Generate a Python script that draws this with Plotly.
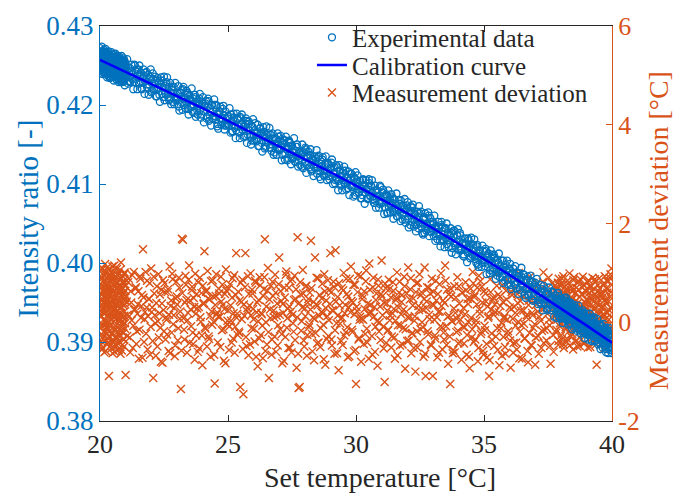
import plotly.graph_objects as go

# ---------------- data ----------------
# run 1
set_temp = [
    20.00, 20.01, 20.02, 20.03, 20.04, 20.05, 20.06, 20.07, 20.08, 20.09,
    20.10, 20.11, 20.12, 20.13, 20.14, 20.15, 20.16, 20.17, 20.18, 20.19,
    20.20, 20.21, 20.22, 20.23, 20.24, 20.25, 20.26, 20.27, 20.28, 20.29,
    20.30, 20.31, 20.32, 20.33, 20.34, 20.35, 20.36, 20.37, 20.38, 20.39,
    20.40, 20.41, 20.42, 20.43, 20.44, 20.45, 20.46, 20.47, 20.48, 20.49,
    20.50, 20.51, 20.52, 20.53, 20.54, 20.55, 20.56, 20.57, 20.58, 20.59,
    20.60, 20.61, 20.62, 20.63, 20.64, 20.65, 20.66, 20.67, 20.68, 20.69,
    20.70, 20.71, 20.72, 20.73, 20.74, 20.75, 20.76, 20.77, 20.78, 20.79,
    20.80, 20.81, 20.82, 20.83, 20.84, 20.85, 20.86, 20.87, 20.88, 20.89,
    20.90, 20.91, 20.92, 20.93, 20.94, 20.95, 20.96, 20.97, 20.98, 20.99,
    21.00, 21.04, 21.08, 21.12, 21.16, 21.20, 21.24, 21.28, 21.32, 21.36,
    21.40, 21.44, 21.48, 21.52, 21.56, 21.60, 21.64, 21.68, 21.72, 21.76,
    21.80, 21.84, 21.88, 21.92, 21.96, 22.00, 22.04, 22.08, 22.12, 22.16,
    22.20, 22.24, 22.28, 22.32, 22.36, 22.40, 22.44, 22.48, 22.52, 22.56,
    22.60, 22.64, 22.68, 22.72, 22.76, 22.80, 22.84, 22.88, 22.92, 22.96,
    23.00, 23.04, 23.08, 23.12, 23.16, 23.20, 23.24, 23.28, 23.32, 23.36,
    23.40, 23.44, 23.48, 23.52, 23.56, 23.60, 23.64, 23.68, 23.72, 23.76,
    23.80, 23.84, 23.88, 23.92, 23.96, 24.00, 24.04, 24.08, 24.12, 24.16,
    24.20, 24.24, 24.28, 24.32, 24.36, 24.40, 24.44, 24.48, 24.52, 24.56,
    24.60, 24.64, 24.68, 24.72, 24.76, 24.80, 24.84, 24.88, 24.92, 24.96,
    25.00, 25.04, 25.08, 25.12, 25.16, 25.20, 25.24, 25.28, 25.32, 25.36,
    25.40, 25.44, 25.48, 25.52, 25.56, 25.60, 25.64, 25.68, 25.72, 25.76,
    25.80, 25.84, 25.88, 25.92, 25.96, 26.00, 26.04, 26.08, 26.12, 26.16,
    26.20, 26.24, 26.28, 26.32, 26.36, 26.40, 26.44, 26.48, 26.52, 26.56,
    26.60, 26.64, 26.68, 26.72, 26.76, 26.80, 26.84, 26.88, 26.92, 26.96,
    27.00, 27.04, 27.08, 27.12, 27.16, 27.20, 27.24, 27.28, 27.32, 27.36,
    27.40, 27.44, 27.48, 27.52, 27.56, 27.60, 27.64, 27.68, 27.72, 27.76,
    27.80, 27.84, 27.88, 27.92, 27.96, 28.00, 28.04, 28.08, 28.12, 28.16,
    28.20, 28.24, 28.28, 28.32, 28.36, 28.40, 28.44, 28.48, 28.52, 28.56,
    28.60, 28.64, 28.68, 28.72, 28.76, 28.80, 28.84, 28.88, 28.92, 28.96,
    29.00, 29.04, 29.08, 29.12, 29.16, 29.20, 29.24, 29.28, 29.32, 29.36,
    29.40, 29.44, 29.48, 29.52, 29.56, 29.60, 29.64, 29.68, 29.72, 29.76,
    29.80, 29.84, 29.88, 29.92, 29.96, 30.00, 30.04, 30.08, 30.12, 30.16,
    30.20, 30.24, 30.28, 30.32, 30.36, 30.40, 30.44, 30.48, 30.52, 30.56,
    30.60, 30.64, 30.68, 30.72, 30.76, 30.80, 30.84, 30.88, 30.92, 30.96,
    31.00, 31.04, 31.08, 31.12, 31.16, 31.20, 31.24, 31.28, 31.32, 31.36,
    31.40, 31.44, 31.48, 31.52, 31.56, 31.60, 31.64, 31.68, 31.72, 31.76,
    31.80, 31.84, 31.88, 31.92, 31.96, 32.00, 32.04, 32.08, 32.12, 32.16,
    32.20, 32.24, 32.28, 32.32, 32.36, 32.40, 32.44, 32.48, 32.52, 32.56,
    32.60, 32.64, 32.68, 32.72, 32.76, 32.80, 32.84, 32.88, 32.92, 32.96,
    33.00, 33.04, 33.08, 33.12, 33.16, 33.20, 33.24, 33.28, 33.32, 33.36,
    33.40, 33.44, 33.48, 33.52, 33.56, 33.60, 33.64, 33.68, 33.72, 33.76,
    33.80, 33.84, 33.88, 33.92, 33.96, 34.00, 34.04, 34.08, 34.12, 34.16,
    34.20, 34.24, 34.28, 34.32, 34.36, 34.40, 34.44, 34.48, 34.52, 34.56,
    34.60, 34.64, 34.68, 34.72, 34.76, 34.80, 34.84, 34.88, 34.92, 34.96,
    35.00, 35.04, 35.08, 35.12, 35.16, 35.20, 35.24, 35.28, 35.32, 35.36,
    35.40, 35.44, 35.48, 35.52, 35.56, 35.60, 35.64, 35.68, 35.72, 35.76,
    35.80, 35.84, 35.88, 35.92, 35.96, 36.00, 36.04, 36.08, 36.12, 36.16,
    36.20, 36.24, 36.28, 36.32, 36.36, 36.40, 36.44, 36.48, 36.52, 36.56,
    36.60, 36.64, 36.68, 36.72, 36.76, 36.80, 36.84, 36.88, 36.92, 36.96,
    37.00, 37.04, 37.08, 37.12, 37.16, 37.20, 37.24, 37.28, 37.32, 37.36,
    37.40, 37.44, 37.48, 37.52, 37.56, 37.60, 37.64, 37.68, 37.72, 37.76,
    37.80, 37.82, 37.84, 37.86, 37.88, 37.90, 37.92, 37.94, 37.96, 37.98,
    38.00, 38.02, 38.04, 38.06, 38.08, 38.10, 38.12, 38.14, 38.16, 38.18,
    38.20, 38.22, 38.24, 38.26, 38.28, 38.30, 38.32, 38.34, 38.36, 38.38,
    38.40, 38.42, 38.44, 38.46, 38.48, 38.50, 38.52, 38.54, 38.56, 38.58,
    38.60, 38.62, 38.64, 38.66, 38.68, 38.70, 38.72, 38.74, 38.76, 38.78,
    38.80, 38.82, 38.84, 38.86, 38.88, 38.90, 38.92, 38.94, 38.96, 38.98,
    39.00, 39.02, 39.04, 39.06, 39.08, 39.10, 39.12, 39.14, 39.16, 39.18,
    39.20, 39.22, 39.24, 39.26, 39.28, 39.30, 39.32, 39.34, 39.36, 39.38,
    39.40, 39.42, 39.44, 39.46, 39.48, 39.50, 39.52, 39.54, 39.56, 39.58,
    39.60, 39.62, 39.64, 39.66, 39.68, 39.70, 39.72, 39.74, 39.76, 39.78,
    39.80, 39.82, 39.84, 39.86, 39.88, 39.90, 39.92, 39.94, 39.96, 39.98,
]

intensity_ratio = [
    0.4260, 0.4250, 0.4266, 0.4255, 0.4261, 0.4245, 0.4257, 0.4263, 0.4252, 0.4268,
    0.4250, 0.4263, 0.4254, 0.4246, 0.4258, 0.4264, 0.4248, 0.4256, 0.4241, 0.4260,
    0.4265, 0.4251, 0.4260, 0.4246, 0.4253, 0.4257, 0.4243, 0.4262, 0.4251, 0.4247,
    0.4250, 0.4257, 0.4240, 0.4259, 0.4252, 0.4246, 0.4264, 0.4244, 0.4254, 0.4250,
    0.4259, 0.4242, 0.4253, 0.4256, 0.4246, 0.4249, 0.4257, 0.4239, 0.4260, 0.4253,
    0.4243, 0.4250, 0.4259, 0.4246, 0.4239, 0.4254, 0.4246, 0.4252, 0.4256, 0.4238,
    0.4252, 0.4261, 0.4243, 0.4248, 0.4256, 0.4240, 0.4244, 0.4258, 0.4241, 0.4249,
    0.4236, 0.4249, 0.4253, 0.4245, 0.4240, 0.4257, 0.4250, 0.4237, 0.4246, 0.4241,
    0.4251, 0.4241, 0.4244, 0.4255, 0.4232, 0.4247, 0.4252, 0.4242, 0.4237, 0.4253,
    0.4242, 0.4235, 0.4255, 0.4247, 0.4239, 0.4243, 0.4233, 0.4248, 0.4253, 0.4237,
    0.4251, 0.4243, 0.4235, 0.4230, 0.4247, 0.4236, 0.4243, 0.4239, 0.4229, 0.4250,
    0.4233, 0.4245, 0.4239, 0.4227, 0.4236, 0.4241, 0.4220, 0.4228, 0.4237, 0.4230,
    0.4233, 0.4222, 0.4238, 0.4226, 0.4233, 0.4216, 0.4227, 0.4233, 0.4221, 0.4236,
    0.4219, 0.4231, 0.4222, 0.4213, 0.4226, 0.4231, 0.4214, 0.4222, 0.4206, 0.4224,
    0.4229, 0.4214, 0.4223, 0.4208, 0.4216, 0.4219, 0.4204, 0.4223, 0.4211, 0.4206,
    0.4209, 0.4215, 0.4198, 0.4216, 0.4210, 0.4203, 0.4220, 0.4200, 0.4209, 0.4204,
    0.4213, 0.4195, 0.4206, 0.4208, 0.4199, 0.4201, 0.4208, 0.4190, 0.4210, 0.4202,
    0.4193, 0.4199, 0.4208, 0.4194, 0.4188, 0.4202, 0.4193, 0.4199, 0.4202, 0.4183,
    0.4197, 0.4205, 0.4187, 0.4191, 0.4200, 0.4183, 0.4186, 0.4200, 0.4182, 0.4189,
    0.4176, 0.4188, 0.4192, 0.4183, 0.4179, 0.4195, 0.4187, 0.4174, 0.4182, 0.4176,
    0.4186, 0.4175, 0.4178, 0.4188, 0.4166, 0.4180, 0.4184, 0.4174, 0.4168, 0.4183,
    0.4173, 0.4165, 0.4185, 0.4176, 0.4169, 0.4172, 0.4161, 0.4176, 0.4180, 0.4163,
    0.4176, 0.4168, 0.4160, 0.4155, 0.4172, 0.4161, 0.4168, 0.4164, 0.4154, 0.4175,
    0.4158, 0.4170, 0.4164, 0.4152, 0.4161, 0.4166, 0.4145, 0.4153, 0.4162, 0.4155,
    0.4157, 0.4146, 0.4162, 0.4150, 0.4157, 0.4140, 0.4151, 0.4157, 0.4145, 0.4160,
    0.4143, 0.4155, 0.4146, 0.4137, 0.4150, 0.4155, 0.4138, 0.4146, 0.4130, 0.4148,
    0.4153, 0.4138, 0.4147, 0.4132, 0.4140, 0.4143, 0.4128, 0.4147, 0.4135, 0.4130,
    0.4133, 0.4139, 0.4122, 0.4140, 0.4134, 0.4127, 0.4144, 0.4124, 0.4133, 0.4128,
    0.4137, 0.4119, 0.4130, 0.4132, 0.4122, 0.4125, 0.4132, 0.4113, 0.4134, 0.4126,
    0.4116, 0.4122, 0.4131, 0.4117, 0.4110, 0.4125, 0.4116, 0.4121, 0.4125, 0.4106,
    0.4119, 0.4127, 0.4109, 0.4113, 0.4121, 0.4105, 0.4108, 0.4121, 0.4104, 0.4111,
    0.4098, 0.4110, 0.4114, 0.4105, 0.4100, 0.4117, 0.4109, 0.4095, 0.4104, 0.4098,
    0.4107, 0.4096, 0.4099, 0.4109, 0.4086, 0.4101, 0.4105, 0.4094, 0.4089, 0.4104,
    0.4094, 0.4086, 0.4106, 0.4097, 0.4089, 0.4093, 0.4082, 0.4096, 0.4101, 0.4084,
    0.4097, 0.4089, 0.4081, 0.4076, 0.4092, 0.4082, 0.4089, 0.4084, 0.4075, 0.4096,
    0.4077, 0.4089, 0.4083, 0.4071, 0.4079, 0.4085, 0.4064, 0.4071, 0.4081, 0.4074,
    0.4076, 0.4065, 0.4081, 0.4069, 0.4075, 0.4059, 0.4070, 0.4075, 0.4064, 0.4079,
    0.4061, 0.4073, 0.4064, 0.4055, 0.4067, 0.4073, 0.4056, 0.4063, 0.4048, 0.4066,
    0.4070, 0.4055, 0.4063, 0.4049, 0.4056, 0.4059, 0.4044, 0.4063, 0.4051, 0.4046,
    0.4050, 0.4056, 0.4038, 0.4057, 0.4050, 0.4043, 0.4060, 0.4040, 0.4049, 0.4044,
    0.4052, 0.4034, 0.4044, 0.4047, 0.4037, 0.4039, 0.4046, 0.4028, 0.4048, 0.4040,
    0.4030, 0.4036, 0.4044, 0.4031, 0.4024, 0.4038, 0.4029, 0.4035, 0.4038, 0.4019,
    0.4033, 0.4041, 0.4022, 0.4027, 0.4035, 0.4018, 0.4021, 0.4035, 0.4017, 0.4024,
    0.4011, 0.4023, 0.4026, 0.4018, 0.4013, 0.4029, 0.4021, 0.4008, 0.4016, 0.4010,
    0.4019, 0.4008, 0.4010, 0.4021, 0.3998, 0.4012, 0.4016, 0.4006, 0.4000, 0.4015,
    0.4004, 0.3996, 0.4015, 0.4007, 0.3999, 0.4002, 0.3991, 0.4006, 0.4010, 0.3993,
    0.4006, 0.3998, 0.3989, 0.3984, 0.4001, 0.3990, 0.3997, 0.3992, 0.3982, 0.4003,
    0.3986, 0.3998, 0.3991, 0.3979, 0.3988, 0.3993, 0.3972, 0.3979, 0.3988, 0.3981,
    0.3984, 0.3973, 0.3988, 0.3976, 0.3983, 0.3966, 0.3977, 0.3982, 0.3970, 0.3985,
    0.3967, 0.3979, 0.3969, 0.3960, 0.3973, 0.3978, 0.3961, 0.3968, 0.3952, 0.3970,
    0.3975, 0.3960, 0.3968, 0.3953, 0.3961, 0.3964, 0.3949, 0.3967, 0.3955, 0.3950,
    0.3954, 0.3960, 0.3942, 0.3960, 0.3954, 0.3947, 0.3964, 0.3943, 0.3952, 0.3947,
    0.3955, 0.3938, 0.3948, 0.3951, 0.3941, 0.3944, 0.3951, 0.3933, 0.3953, 0.3946,
    0.3937, 0.3944, 0.3952, 0.3939, 0.3932, 0.3947, 0.3938, 0.3944, 0.3947, 0.3929,
    0.3943, 0.3952, 0.3933, 0.3938, 0.3946, 0.3930, 0.3933, 0.3947, 0.3929, 0.3937,
    0.3924, 0.3937, 0.3940, 0.3932, 0.3927, 0.3944, 0.3936, 0.3923, 0.3931, 0.3926,
    0.3936, 0.3926, 0.3928, 0.3939, 0.3916, 0.3931, 0.3935, 0.3925, 0.3919, 0.3935,
    0.3924, 0.3917, 0.3936, 0.3928, 0.3920, 0.3924, 0.3913, 0.3928, 0.3932, 0.3916,
    0.3930, 0.3923, 0.3914, 0.3910, 0.3926, 0.3916, 0.3923, 0.3919, 0.3909, 0.3931,
    0.3914, 0.3927, 0.3920, 0.3909, 0.3917, 0.3923, 0.3902, 0.3910, 0.3919, 0.3913,
    0.3915, 0.3905, 0.3920, 0.3909, 0.3915, 0.3899, 0.3910, 0.3916, 0.3904, 0.3920,
    0.3903, 0.3916, 0.3906, 0.3898, 0.3910, 0.3916, 0.3899, 0.3907, 0.3891, 0.3910,
    0.3914, 0.3900, 0.3908, 0.3894, 0.3901, 0.3905, 0.3890, 0.3909, 0.3897, 0.3893,
]

measurement_deviation = [
    0.31, -0.12, 0.78, 0.45, -0.38, 1.05, 0.12, 0.56, -0.55, 0.27,
    0.89, -0.05, 0.62, 0.18, -0.28, 0.95, 0.41, -0.61, 0.70, 0.03,
    1.18, 0.36, -0.20, 0.52, 0.84, -0.44, 0.22, 0.67, -0.09, 0.48,
    1.12, -0.33, 0.15, 0.73, 0.39, -1.09, 0.96, 0.08, 0.60, -0.16,
    0.29, 0.83, -0.47, 0.51, 1.02, 0.20, -0.25, 0.66, 0.33, -0.63,
    0.88, 0.11, 0.44, -0.36, 0.75, 0.02, 1.15, 0.26, -0.50, 0.58,
    0.92, -0.07, 0.37, -0.30, 0.69, 0.14, 1.08, -0.41, 0.47, 0.81,
    -0.18, 0.24, 0.99, -0.56, 0.63, 0.06, 0.42, -0.26, 0.86, 0.17,
    -0.64, 0.54, 1.21, 0.30, -0.10, 0.71, 0.38, -0.46, 0.93, 0.09,
    0.57, -0.22, 0.34, 0.79, -0.35, 0.13, 1.01, 0.49, -0.02, 0.64,
    -1.07, 0.42, 0.15, 0.88, -0.31, 0.63, 0.04, -0.52, 1.02, 0.27,
    0.71, -0.18, 0.36, -0.74, 0.93, 0.09, 0.55, 1.48, -0.40, 0.21,
    -0.23, 0.84, 0.12, 0.47, -0.66, 1.09, 0.30, -1.13, 0.58, -0.02,
    0.39, -0.49, 0.97, 0.18, -0.11, 0.66, -0.82, 0.25, 0.79, -0.35,
    0.05, 0.61, -0.58, 1.13, 0.33, -0.21, 0.87, 0.14, -0.69, 0.48,
    0.52, -0.37, 0.90, 0.07, -1.35, 1.69, 1.67, -0.15, 0.40, 0.76,
    -0.62, 0.19, 1.15, 0.44, -0.08, 0.72, -0.44, 0.31, 0.98, -0.27,
    0.28, 0.81, -0.53, 0.10, 0.59, -0.87, 0.37, 1.44, -0.13, 0.65,
    1.04, -0.29, 0.46, -0.70, 0.22, 0.85, 0.01, -1.24, 0.53, 0.16,
    -0.41, 0.68, 0.11, 0.92, -0.16, 0.35, -0.78, 0.57, 1.07, -0.04,
    0.24, -0.56, 0.77, 0.03, 0.50, -0.33, 0.95, -0.09, 1.40, 0.17,
    0.62, -0.22, -1.31, 0.41, 0.86, -1.46, 0.13, 1.40, -0.48, 0.29,
    -0.67, 0.34, 0.99, -0.12, 0.58, 0.06, -0.39, 0.80, 0.20, -0.89,
    0.45, 0.91, -0.26, 0.16, -0.73, 0.67, 1.68, 0.00, -0.45, 1.10,
    -1.13, 0.26, 0.74, -0.35, 0.53, 0.10, 0.96, -0.60, 0.38, -0.06,
    1.31, -0.14, 0.43, -0.83, 0.19, 0.70, -0.30, 1.03, 0.08, -0.52,
    0.32, 0.83, -0.61, 0.15, -0.19, 0.94, 0.47, -0.92, 1.72, -1.33,
    -1.31, 0.56, 0.02, 1.06, -0.37, 0.28, 0.73, -0.68, 0.40, -0.10,
    0.60, 1.65, -0.24, 0.09, -0.77, 1.31, 0.36, -0.43, 0.89, 0.13,
    -0.50, 0.21, 0.78, -0.05, 0.97, -0.86, 0.44, 0.12, -0.28, 0.66,
    1.40, -0.35, 0.25, 0.82, -0.64, 1.46, -0.02, 0.51, -0.97, 0.34,
    0.07, 0.69, -0.46, 1.00, 0.18, -0.20, 0.57, -0.71, 0.30, 0.88,
    1.13, -0.15, 0.40, -0.59, 0.76, -1.25, 0.23, 0.95, -0.32, 0.11,
    -0.80, 0.47, 0.05, 0.63, -0.24, 1.05, -0.41, 0.17, 1.19, 0.35,
    0.20, -0.66, 0.90, 0.31, -0.09, 0.58, -0.88, 0.74, 0.00, -0.36,
    1.25, 0.14, -0.53, -1.21, 0.69, 0.38, -0.17, 0.86, 0.04, 0.50,
    -0.29, 0.81, 0.27, -0.74, 0.45, 1.01, -0.06, 0.60, -0.47, 0.16,
    0.55, -0.12, 0.92, -0.94, 0.21, -0.38, 1.11, 0.09, 0.67, -0.63,
    -0.22, 0.48, 0.03, -1.00, 0.79, -0.51, 0.33, 0.97, -0.14, 0.61,
    0.26, -0.70, 1.11, -1.09, 0.42, -0.18, 0.70, 0.06, -0.45, 0.88,
    -1.09, 0.35, -0.27, 0.84, 0.10, 0.57, -0.62, 0.22, 0.99, -0.11,
    0.44, -0.35, 1.15, -0.08, 0.66, -0.84, 0.13, -1.25, 0.52, 0.02,
    -0.56, 0.73, 0.19, -0.20, 0.91, -0.43, 0.38, 0.05, -0.76, 0.60,
    0.29, -0.10, 0.81, -0.66, 0.47, 0.00, -0.93, 0.68, -0.31, 1.02,
    -0.40, 0.55, -0.05, 0.36, -0.79, 0.94, 0.17, -0.24, 0.72, -0.58,
    0.63, -0.16, 0.42, -0.71, 0.09, -1.09, 0.87, 0.26, -0.36, 0.50,
    -0.48, 0.21, 0.98, -0.12, 0.56, -0.87, 0.33, -0.01, 0.75, -0.30,
    0.12, -0.64, 0.46, 0.85, -0.25, 0.30, -0.92, 0.61, 0.07, -0.42,
    0.70, -0.07, -0.55, 0.39, 1.00, -0.19, 0.24, -0.74, 0.53, -0.03,
    -0.33, 0.58, 0.15, -0.81, 0.44, 0.92, -0.46, 0.19, -0.11, 0.67,
    -0.86, 0.36, 0.80, -0.28, 0.11, 0.64, -0.52, 0.27, 1.01, -0.15,
    0.49, -0.37, 0.17, 0.90, -0.06, -0.84, 0.58, 0.31, -0.60, 0.74,
    0.34, -0.21, 0.72, 0.05, 0.51, -0.46, 0.88, 0.17, -0.08, 0.63,
    0.26, 0.79, -0.35, 0.43, 0.02, 0.93, -0.52, 0.30, 0.58, -0.14,
    0.67, 0.10, -0.40, 0.84, 0.38, -0.19, 0.55, 0.99, -0.03, 0.21,
    -0.29, 0.47, 0.16, 0.70, -0.55, 0.35, 0.91, 0.08, -0.12, 0.60,
    0.44, -0.37, 0.81, 0.24, -0.06, 0.66, 0.13, -0.48, 0.87, 0.32,
    0.03, 0.56, -0.24, 0.92, 0.19, -0.43, 0.74, 0.40, -0.10, 0.28,
    0.62, -0.16, 0.36, -0.51, 0.85, 0.11, 0.50, -0.32, 0.71, 0.23,
    -0.08, 0.45, 0.90, 0.14, -0.40, 0.68, 0.27, 0.82, -0.21, 0.53,
    -0.86, 0.37, 0.06, 0.64, -0.27, 0.89, 0.20, -0.45, 0.58, 0.12,
    0.48, -0.13, 0.76, 0.31, -0.54, 0.15, 0.93, -0.02, 0.41, 0.69,
    0.09, 0.60, -0.36, 0.83, 0.25, -0.18, 0.52, 0.97, -0.47, 1.09,
]

# run 2 (interleaved samples)
set_temp_2 = [
    20.005, 20.015, 20.025, 20.035, 20.045, 20.055, 20.065, 20.075, 20.085, 20.095,
    20.105, 20.115, 20.125, 20.135, 20.145, 20.155, 20.165, 20.175, 20.185, 20.195,
    20.205, 20.215, 20.225, 20.235, 20.245, 20.255, 20.265, 20.275, 20.285, 20.295,
    20.305, 20.315, 20.325, 20.335, 20.345, 20.355, 20.365, 20.375, 20.385, 20.395,
    20.405, 20.415, 20.425, 20.435, 20.445, 20.455, 20.465, 20.475, 20.485, 20.495,
    20.505, 20.515, 20.525, 20.535, 20.545, 20.555, 20.565, 20.575, 20.585, 20.595,
    20.605, 20.615, 20.625, 20.635, 20.645, 20.655, 20.665, 20.675, 20.685, 20.695,
    20.705, 20.715, 20.725, 20.735, 20.745, 20.755, 20.765, 20.775, 20.785, 20.795,
    20.805, 20.815, 20.825, 20.835, 20.845, 20.855, 20.865, 20.875, 20.885, 20.895,
    20.905, 20.915, 20.925, 20.935, 20.945, 20.955, 20.965, 20.975, 20.985, 20.995,
    21.02, 21.06, 21.10, 21.14, 21.18, 21.22, 21.26, 21.30, 21.34, 21.38,
    21.42, 21.46, 21.50, 21.54, 21.58, 21.62, 21.66, 21.70, 21.74, 21.78,
    21.82, 21.86, 21.90, 21.94, 21.98, 22.02, 22.06, 22.10, 22.14, 22.18,
    22.22, 22.26, 22.30, 22.34, 22.38, 22.42, 22.46, 22.50, 22.54, 22.58,
    22.62, 22.66, 22.70, 22.74, 22.78, 22.82, 22.86, 22.90, 22.94, 22.98,
    23.02, 23.06, 23.10, 23.14, 23.18, 23.22, 23.26, 23.30, 23.34, 23.38,
    23.42, 23.46, 23.50, 23.54, 23.58, 23.62, 23.66, 23.70, 23.74, 23.78,
    23.82, 23.86, 23.90, 23.94, 23.98, 24.02, 24.06, 24.10, 24.14, 24.18,
    24.22, 24.26, 24.30, 24.34, 24.38, 24.42, 24.46, 24.50, 24.54, 24.58,
    24.62, 24.66, 24.70, 24.74, 24.78, 24.82, 24.86, 24.90, 24.94, 24.98,
    25.02, 25.06, 25.10, 25.14, 25.18, 25.22, 25.26, 25.30, 25.34, 25.38,
    25.42, 25.46, 25.50, 25.54, 25.58, 25.62, 25.66, 25.70, 25.74, 25.78,
    25.82, 25.86, 25.90, 25.94, 25.98, 26.02, 26.06, 26.10, 26.14, 26.18,
    26.22, 26.26, 26.30, 26.34, 26.38, 26.42, 26.46, 26.50, 26.54, 26.58,
    26.62, 26.66, 26.70, 26.74, 26.78, 26.82, 26.86, 26.90, 26.94, 26.98,
    27.02, 27.06, 27.10, 27.14, 27.18, 27.22, 27.26, 27.30, 27.34, 27.38,
    27.42, 27.46, 27.50, 27.54, 27.58, 27.62, 27.66, 27.70, 27.74, 27.78,
    27.82, 27.86, 27.90, 27.94, 27.98, 28.02, 28.06, 28.10, 28.14, 28.18,
    28.22, 28.26, 28.30, 28.34, 28.38, 28.42, 28.46, 28.50, 28.54, 28.58,
    28.62, 28.66, 28.70, 28.74, 28.78, 28.82, 28.86, 28.90, 28.94, 28.98,
    29.02, 29.06, 29.10, 29.14, 29.18, 29.22, 29.26, 29.30, 29.34, 29.38,
    29.42, 29.46, 29.50, 29.54, 29.58, 29.62, 29.66, 29.70, 29.74, 29.78,
    29.82, 29.86, 29.90, 29.94, 29.98, 30.02, 30.06, 30.10, 30.14, 30.18,
    30.22, 30.26, 30.30, 30.34, 30.38, 30.42, 30.46, 30.50, 30.54, 30.58,
    30.62, 30.66, 30.70, 30.74, 30.78, 30.82, 30.86, 30.90, 30.94, 30.98,
    31.02, 31.06, 31.10, 31.14, 31.18, 31.22, 31.26, 31.30, 31.34, 31.38,
    31.42, 31.46, 31.50, 31.54, 31.58, 31.62, 31.66, 31.70, 31.74, 31.78,
    31.82, 31.86, 31.90, 31.94, 31.98, 32.02, 32.06, 32.10, 32.14, 32.18,
    32.22, 32.26, 32.30, 32.34, 32.38, 32.42, 32.46, 32.50, 32.54, 32.58,
    32.62, 32.66, 32.70, 32.74, 32.78, 32.82, 32.86, 32.90, 32.94, 32.98,
    33.02, 33.06, 33.10, 33.14, 33.18, 33.22, 33.26, 33.30, 33.34, 33.38,
    33.42, 33.46, 33.50, 33.54, 33.58, 33.62, 33.66, 33.70, 33.74, 33.78,
    33.82, 33.86, 33.90, 33.94, 33.98, 34.02, 34.06, 34.10, 34.14, 34.18,
    34.22, 34.26, 34.30, 34.34, 34.38, 34.42, 34.46, 34.50, 34.54, 34.58,
    34.62, 34.66, 34.70, 34.74, 34.78, 34.82, 34.86, 34.90, 34.94, 34.98,
    35.02, 35.06, 35.10, 35.14, 35.18, 35.22, 35.26, 35.30, 35.34, 35.38,
    35.42, 35.46, 35.50, 35.54, 35.58, 35.62, 35.66, 35.70, 35.74, 35.78,
    35.82, 35.86, 35.90, 35.94, 35.98, 36.02, 36.06, 36.10, 36.14, 36.18,
    36.22, 36.26, 36.30, 36.34, 36.38, 36.42, 36.46, 36.50, 36.54, 36.58,
    36.62, 36.66, 36.70, 36.74, 36.78, 36.82, 36.86, 36.90, 36.94, 36.98,
    37.02, 37.06, 37.10, 37.14, 37.18, 37.22, 37.26, 37.30, 37.34, 37.38,
    37.42, 37.46, 37.50, 37.54, 37.58, 37.62, 37.66, 37.70, 37.74, 37.78,
    37.81, 37.83, 37.85, 37.87, 37.89, 37.91, 37.93, 37.95, 37.97, 37.99,
    38.01, 38.03, 38.05, 38.07, 38.09, 38.11, 38.13, 38.15, 38.17, 38.19,
    38.21, 38.23, 38.25, 38.27, 38.29, 38.31, 38.33, 38.35, 38.37, 38.39,
    38.41, 38.43, 38.45, 38.47, 38.49, 38.51, 38.53, 38.55, 38.57, 38.59,
    38.61, 38.63, 38.65, 38.67, 38.69, 38.71, 38.73, 38.75, 38.77, 38.79,
    38.81, 38.83, 38.85, 38.87, 38.89, 38.91, 38.93, 38.95, 38.97, 38.99,
    39.01, 39.03, 39.05, 39.07, 39.09, 39.11, 39.13, 39.15, 39.17, 39.19,
    39.21, 39.23, 39.25, 39.27, 39.29, 39.31, 39.33, 39.35, 39.37, 39.39,
    39.41, 39.43, 39.45, 39.47, 39.49, 39.51, 39.53, 39.55, 39.57, 39.59,
    39.61, 39.63, 39.65, 39.67, 39.69, 39.71, 39.73, 39.75, 39.77, 39.79,
    39.81, 39.83, 39.85, 39.87, 39.89, 39.91, 39.93, 39.95, 39.97, 39.99,
]

intensity_ratio_2 = [
    0.4272, 0.4245, 0.4261, 0.4240, 0.4265, 0.4250, 0.4274, 0.4253, 0.4268, 0.4242,
    0.4239, 0.4262, 0.4268, 0.4246, 0.4252, 0.4270, 0.4241, 0.4264, 0.4247, 0.4257,
    0.4260, 0.4271, 0.4240, 0.4255, 0.4242, 0.4265, 0.4248, 0.4235, 0.4267, 0.4261,
    0.4244, 0.4237, 0.4262, 0.4268, 0.4247, 0.4239, 0.4254, 0.4264, 0.4234, 0.4262,
    0.4263, 0.4248, 0.4235, 0.4259, 0.4267, 0.4241, 0.4264, 0.4244, 0.4252, 0.4237,
    0.4236, 0.4260, 0.4254, 0.4231, 0.4261, 0.4250, 0.4238, 0.4264, 0.4244, 0.4257,
    0.4265, 0.4241, 0.4237, 0.4260, 0.4232, 0.4254, 0.4248, 0.4234, 0.4262, 0.4245,
    0.4242, 0.4260, 0.4229, 0.4252, 0.4255, 0.4231, 0.4261, 0.4245, 0.4235, 0.4258,
    0.4255, 0.4229, 0.4253, 0.4239, 0.4262, 0.4233, 0.4242, 0.4256, 0.4229, 0.4249,
    0.4232, 0.4246, 0.4259, 0.4230, 0.4249, 0.4256, 0.4225, 0.4246, 0.4253, 0.4234,
    0.4248, 0.4258, 0.4227, 0.4241, 0.4229, 0.4251, 0.4233, 0.4220, 0.4251, 0.4244,
    0.4228, 0.4220, 0.4245, 0.4250, 0.4230, 0.4221, 0.4235, 0.4245, 0.4214, 0.4241,
    0.4242, 0.4226, 0.4213, 0.4236, 0.4245, 0.4218, 0.4240, 0.4220, 0.4227, 0.4211,
    0.4211, 0.4234, 0.4228, 0.4204, 0.4235, 0.4223, 0.4210, 0.4236, 0.4215, 0.4227,
    0.4235, 0.4210, 0.4206, 0.4228, 0.4201, 0.4222, 0.4215, 0.4201, 0.4228, 0.4210,
    0.4207, 0.4224, 0.4193, 0.4215, 0.4219, 0.4194, 0.4223, 0.4207, 0.4196, 0.4218,
    0.4215, 0.4188, 0.4212, 0.4197, 0.4221, 0.4191, 0.4199, 0.4213, 0.4185, 0.4204,
    0.4188, 0.4201, 0.4214, 0.4184, 0.4204, 0.4210, 0.4178, 0.4199, 0.4205, 0.4185,
    0.4208, 0.4180, 0.4196, 0.4174, 0.4200, 0.4184, 0.4207, 0.4186, 0.4200, 0.4173,
    0.4170, 0.4192, 0.4198, 0.4175, 0.4182, 0.4199, 0.4169, 0.4192, 0.4174, 0.4183,
    0.4186, 0.4196, 0.4165, 0.4179, 0.4167, 0.4189, 0.4171, 0.4158, 0.4189, 0.4182,
    0.4166, 0.4158, 0.4183, 0.4188, 0.4168, 0.4159, 0.4173, 0.4183, 0.4152, 0.4179,
    0.4179, 0.4163, 0.4150, 0.4173, 0.4182, 0.4155, 0.4177, 0.4157, 0.4164, 0.4148,
    0.4148, 0.4171, 0.4165, 0.4141, 0.4172, 0.4160, 0.4147, 0.4173, 0.4152, 0.4164,
    0.4171, 0.4146, 0.4142, 0.4164, 0.4137, 0.4158, 0.4151, 0.4137, 0.4164, 0.4146,
    0.4144, 0.4161, 0.4130, 0.4152, 0.4156, 0.4131, 0.4160, 0.4144, 0.4133, 0.4155,
    0.4152, 0.4125, 0.4149, 0.4134, 0.4158, 0.4128, 0.4136, 0.4150, 0.4122, 0.4141,
    0.4124, 0.4137, 0.4150, 0.4120, 0.4140, 0.4146, 0.4114, 0.4135, 0.4141, 0.4121,
    0.4144, 0.4116, 0.4132, 0.4110, 0.4135, 0.4120, 0.4143, 0.4121, 0.4136, 0.4109,
    0.4106, 0.4128, 0.4134, 0.4111, 0.4117, 0.4135, 0.4105, 0.4127, 0.4110, 0.4119,
    0.4121, 0.4131, 0.4100, 0.4114, 0.4101, 0.4124, 0.4106, 0.4092, 0.4124, 0.4117,
    0.4100, 0.4092, 0.4117, 0.4122, 0.4101, 0.4093, 0.4107, 0.4116, 0.4086, 0.4113,
    0.4113, 0.4097, 0.4084, 0.4107, 0.4115, 0.4089, 0.4111, 0.4090, 0.4098, 0.4082,
    0.4082, 0.4105, 0.4099, 0.4075, 0.4105, 0.4094, 0.4081, 0.4106, 0.4086, 0.4098,
    0.4105, 0.4080, 0.4076, 0.4098, 0.4070, 0.4092, 0.4085, 0.4070, 0.4098, 0.4080,
    0.4076, 0.4093, 0.4062, 0.4084, 0.4087, 0.4063, 0.4092, 0.4075, 0.4065, 0.4087,
    0.4083, 0.4056, 0.4080, 0.4065, 0.4088, 0.4059, 0.4067, 0.4080, 0.4053, 0.4072,
    0.4055, 0.4068, 0.4081, 0.4051, 0.4070, 0.4077, 0.4045, 0.4065, 0.4072, 0.4052,
    0.4074, 0.4046, 0.4061, 0.4040, 0.4065, 0.4049, 0.4072, 0.4051, 0.4065, 0.4038,
    0.4036, 0.4058, 0.4063, 0.4041, 0.4047, 0.4064, 0.4034, 0.4057, 0.4039, 0.4048,
    0.4050, 0.4060, 0.4028, 0.4043, 0.4030, 0.4052, 0.4034, 0.4021, 0.4052, 0.4045,
    0.4028, 0.4020, 0.4044, 0.4050, 0.4029, 0.4020, 0.4034, 0.4044, 0.4013, 0.4040,
    0.4041, 0.4025, 0.4011, 0.4035, 0.4043, 0.4016, 0.4038, 0.4018, 0.4025, 0.4009,
    0.4008, 0.4031, 0.4024, 0.4001, 0.4031, 0.4019, 0.4006, 0.4032, 0.4011, 0.4023,
    0.4030, 0.4005, 0.4000, 0.4023, 0.3995, 0.4016, 0.4009, 0.3995, 0.4022, 0.4004,
    0.4001, 0.4018, 0.3986, 0.4009, 0.4012, 0.3987, 0.4016, 0.4000, 0.3989, 0.4011,
    0.4007, 0.3980, 0.4003, 0.3988, 0.4012, 0.3982, 0.3990, 0.4003, 0.3975, 0.3994,
    0.3978, 0.3991, 0.4003, 0.3973, 0.3993, 0.3999, 0.3967, 0.3987, 0.3993, 0.3973,
    0.3996, 0.3968, 0.3983, 0.3961, 0.3987, 0.3971, 0.3994, 0.3972, 0.3986, 0.3959,
    0.3956, 0.3978, 0.3983, 0.3960, 0.3967, 0.3984, 0.3954, 0.3976, 0.3958, 0.3967,
    0.3970, 0.3980, 0.3948, 0.3962, 0.3950, 0.3972, 0.3954, 0.3940, 0.3971, 0.3964,
    0.3948, 0.3940, 0.3964, 0.3969, 0.3949, 0.3940, 0.3954, 0.3963, 0.3932, 0.3959,
    0.3959, 0.3944, 0.3930, 0.3954, 0.3962, 0.3936, 0.3958, 0.3938, 0.3945, 0.3930,
    0.3930, 0.3954, 0.3947, 0.3924, 0.3954, 0.3943, 0.3930, 0.3956, 0.3935, 0.3948,
    0.3956, 0.3932, 0.3927, 0.3950, 0.3922, 0.3944, 0.3937, 0.3923, 0.3950, 0.3933,
    0.3930, 0.3948, 0.3916, 0.3939, 0.3942, 0.3918, 0.3947, 0.3931, 0.3920, 0.3943,
    0.3940, 0.3914, 0.3937, 0.3923, 0.3946, 0.3917, 0.3925, 0.3939, 0.3911, 0.3931,
    0.3914, 0.3928, 0.3940, 0.3911, 0.3930, 0.3937, 0.3905, 0.3926, 0.3932, 0.3913,
    0.3936, 0.3909, 0.3924, 0.3903, 0.3928, 0.3913, 0.3936, 0.3915, 0.3929, 0.3903,
    0.3901, 0.3924, 0.3929, 0.3907, 0.3913, 0.3931, 0.3901, 0.3924, 0.3906, 0.3916,
    0.3918, 0.3929, 0.3897, 0.3912, 0.3899, 0.3922, 0.3904, 0.3891, 0.3922, 0.3916,
    0.3900, 0.3893, 0.3917, 0.3923, 0.3902, 0.3894, 0.3908, 0.3918, 0.3887, 0.3915,
    0.3915, 0.3900, 0.3886, 0.3910, 0.3918, 0.3892, 0.3914, 0.3894, 0.3901, 0.3886,
]

measurement_deviation_2 = [
    0.58, -0.27, 0.14, 0.91, -0.45, 0.37, 0.72, -0.08, 1.10, 0.21,
    -0.52, 0.46, 0.83, 0.05, 0.64, -0.19, 0.28, 1.03, -0.37, 0.50,
    0.19, 0.76, -0.58, 0.40, -0.03, 0.97, 0.33, -0.24, 0.61, 0.87,
    -0.14, 0.54, 1.07, -0.42, 0.25, 0.68, 0.00, 0.85, -0.31, 0.43,
    0.71, -0.06, 0.35, 0.94, -0.53, 0.16, 0.60, -0.21, 1.13, 0.39,
    -0.40, 0.27, 0.82, 0.10, -0.15, 0.65, 0.47, -0.60, 0.90, 0.12,
    0.35, 1.00, -0.33, 0.55, 0.07, -0.48, 0.78, 0.23, -0.11, 0.69,
    0.95, -0.23, 0.41, 0.18, 0.74, -0.39, 0.04, 0.59, 1.06, -0.29,
    0.13, 0.66, -0.17, 0.88, 0.31, -0.57, 0.52, 0.01, 0.80, -0.04,
    -0.34, 0.84, 0.20, 0.62, -0.49, 0.44, 0.98, -0.13, 0.36, 0.73,
    0.53, -0.28, 0.81, 0.12, -0.61, 0.40, 0.95, -0.07, 0.25, 0.68,
    -0.44, 0.17, 0.63, -0.15, 0.88, 0.33, -0.72, 0.50, 0.06, 1.02,
    0.30, -0.55, 0.47, 0.79, -0.09, 0.21, -0.38, 0.92, 0.14, -0.68,
    0.73, 0.02, -0.31, 0.56, -0.80, 0.38, 0.85, -0.18, 0.61, 0.10,
    -0.25, 0.67, 0.15, -0.63, 0.44, 0.98, -0.04, 0.29, -0.47, 0.82,
    0.36, -0.12, 0.70, 0.22, -0.57, 0.59, 0.08, -0.35, 0.94, 0.45,
    0.04, 0.86, -0.42, 0.26, 0.65, -0.21, 0.49, -0.76, 0.17, 0.57,
    -0.60, 0.31, 0.90, 0.01, -0.27, 0.74, 0.39, -0.10, 0.62, -0.49,
    0.48, -0.34, 0.13, 0.83, -0.05, 0.52, -0.66, 0.35, 0.97, 0.20,
    0.11, 0.58, -0.50, 0.42, 0.76, -0.14, 0.27, -0.83, 0.64, 0.03,
    0.69, -0.08, 0.34, -0.41, 0.89, 0.18, -0.62, 0.55, 0.09, -0.26,
    -0.19, 0.44, 0.80, 0.06, -0.54, 0.36, 0.71, -0.30, 0.23, 0.93,
    0.57, -0.45, 0.14, 0.66, 0.27, -0.13, 0.84, -0.70, 0.40, 0.02,
    -0.33, 0.75, 0.19, -0.07, 0.53, 0.91, -0.58, 0.32, 0.64, -0.20,
    0.46, 0.08, -0.66, 0.82, 0.24, -0.29, 0.60, 0.13, -0.47, 0.77,
    0.15, 0.63, -0.24, 0.37, -0.78, 0.50, 0.96, -0.11, 0.28, 0.70,
    -0.52, 0.22, 0.87, -0.02, 0.45, -0.36, 0.67, 0.10, -0.64, 0.39,
    0.81, -0.17, 0.30, 0.58, -0.49, 0.12, 0.74, -0.26, 0.47, -0.05,
    0.26, 0.69, -0.59, 0.41, 0.07, -0.22, 0.90, 0.34, -0.41, 0.55,
    -0.12, 0.48, 0.18, -0.75, 0.63, 0.29, -0.34, 0.85, 0.04, 0.37,
    0.60, -0.47, 0.23, 0.72, -0.16, 0.42, -0.63, 0.14, 0.79, -0.03,
    -0.38, 0.09, 0.65, -0.27, 0.35, 0.88, -0.10, 0.52, -0.69, 0.20,
    0.43, -0.20, 0.76, 0.16, -0.56, 0.31, 0.61, -0.35, 0.05, 0.93,
    0.07, 0.54, -0.44, 0.27, 0.83, -0.13, 0.38, -0.74, 0.66, 0.19,
    -0.28, 0.71, 0.11, -0.60, 0.45, 0.02, 0.86, -0.19, 0.32, 0.57,
    0.52, -0.09, 0.39, 0.78, -0.42, 0.24, -0.15, 0.67, 0.13, -0.51,
    0.18, 0.64, -0.31, 0.03, 0.49, -0.67, 0.30, 0.82, -0.06, 0.41,
    -0.45, 0.26, 0.73, -0.14, 0.58, 0.10, -0.37, 0.46, 0.89, -0.23,
    0.34, -0.52, 0.12, 0.61, -0.18, 0.80, 0.25, -0.40, 0.55, 0.00,
    -0.10, 0.47, -0.64, 0.29, 0.71, -0.25, 0.15, 0.58, -0.47, 0.36,
    0.62, 0.05, -0.33, 0.44, -0.71, 0.21, 0.77, -0.08, 0.33, -0.55,
    -0.21, 0.39, 0.84, -0.46, 0.11, 0.56, -0.29, 0.68, 0.02, -0.63,
    0.28, -0.61, 0.50, 0.07, -0.17, 0.73, -0.40, 0.19, 0.60, -0.09,
    -0.43, 0.16, 0.65, -0.26, 0.37, -0.70, 0.48, 0.09, -0.14, 0.79,
    0.51, -0.35, 0.03, 0.70, -0.52, 0.26, 0.83, -0.19, 0.40, -0.66,
    -0.07, 0.58, -0.44, 0.32, 0.12, -0.77, 0.61, -0.23, 0.45, 0.15,
    0.36, -0.29, 0.74, -0.56, 0.20, 0.52, -0.12, -0.68, 0.41, 0.08,
    -0.50, 0.64, 0.05, -0.18, 0.81, -0.37, 0.27, 0.55, -0.62, 0.31,
    0.19, -0.41, 0.57, 0.01, -0.73, 0.43, -0.06, 0.68, 0.24, -0.33,
    0.60, 0.10, -0.58, 0.35, -0.22, 0.77, -0.47, 0.14, 0.50, -0.04,
    -0.31, 0.45, 0.22, -0.64, 0.66, 0.03, -0.17, 0.82, -0.42, 0.29,
    0.38, -0.12, 0.62, 0.05, -0.48, 0.27, 0.79, -0.26, 0.11, 0.53,
    0.41, -0.15, 0.66, 0.09, 0.80, -0.38, 0.27, 0.53, -0.02, 0.74,
    -0.27, 0.35, 0.88, 0.16, -0.44, 0.61, 0.04, 0.72, 0.22, -0.10,
    0.56, -0.33, 0.12, 0.78, 0.31, -0.06, 0.69, -0.47, 0.43, 0.19,
    0.02, 0.63, -0.24, 0.47, 0.85, -0.12, 0.36, 0.59, -0.39, 0.25,
    0.70, 0.14, -0.49, 0.39, 0.06, 0.82, -0.20, 0.51, 0.28, -0.07,
    -0.35, 0.57, 0.23, -0.13, 0.76, 0.33, -0.42, 0.65, 0.10, 0.46,
    0.29, -0.22, 0.81, 0.44, -0.03, 0.60, 0.17, -0.50, 0.73, 0.37,
    0.64, 0.08, -0.31, 0.52, 0.26, -0.16, 0.87, 0.13, -0.45, 0.40,
    -0.09, 0.49, 0.75, -0.28, 0.34, 0.03, 0.68, -0.37, 0.55, 0.21,
    0.32, -0.41, 0.58, 0.15, 0.79, -0.19, 0.45, 0.07, -0.30, 0.84,
    0.18, 0.67, -0.26, 0.42, -0.05, 0.90, 0.30, -0.43, 0.62, 0.11,
]

calib_temp = [20, 21, 22, 23, 24, 25, 26, 27, 28, 29, 30,
              31, 32, 33, 34, 35, 36, 37, 38, 39, 40]
calib_ratio = [0.4257, 0.4242, 0.4227, 0.42115, 0.4196, 0.4180, 0.4164,
               0.4148, 0.4132, 0.4115, 0.4098, 0.40805, 0.4063, 0.4044,
               0.4025, 0.4005, 0.3985, 0.3964, 0.3943, 0.3921, 0.3899]

x_ticks = [20, 25, 30, 35, 40]
ratio_ticks = [0.38, 0.39, 0.40, 0.41, 0.42, 0.43]
ratio_labels = ["0.38", "0.39", "0.40", "0.41", "0.42", "0.43"]
dev_ticks = [-2, 0, 2, 4, 6]
dev_labels = ["-2", "0", "2", "4", "6"]

# ---------------- styling ----------------
BLUE = "#0072BD"
ORANGE = "#D95319"
DARK = "#262626"
FONT = "Liberation Serif"

all_temp = set_temp + set_temp_2
all_ratio = intensity_ratio + intensity_ratio_2
all_dev = measurement_deviation + measurement_deviation_2

fig = go.Figure()
fig.add_trace(go.Scatter(
    x=all_temp, y=all_ratio, mode="markers", name="Experimental data",
    yaxis="y2", legend="legend",
    marker=dict(symbol="circle-open", size=7, color=BLUE,
                line=dict(width=1.3, color=BLUE)),
))
fig.add_trace(go.Scatter(
    x=calib_temp, y=calib_ratio, mode="lines", name="Calibration curve",
    yaxis="y2", legend="legend2", line=dict(color="#0000FF", width=2.5),
))
fig.add_trace(go.Scatter(
    x=all_temp, y=all_dev, mode="markers",
    name="Measurement deviation", yaxis="y", legend="legend3",
    marker=dict(symbol="x-thin-open", size=8, color=ORANGE,
                line=dict(width=1.4, color=ORANGE)),
))

legend_common = dict(xanchor="left", yanchor="top",
                     bgcolor="rgba(255,255,255,0)", borderwidth=0,
                     font=dict(family=FONT, size=25, color=DARK))
axis_common = dict(ticks="inside", ticklen=6, tickwidth=1, showline=True,
                   linewidth=1, showgrid=False, zeroline=False,
                   ticklabeloverflow="allow")

fig.update_layout(
    width=688, height=499,
    margin=dict(l=100, r=76, t=11, b=78, pad=0),
    paper_bgcolor="white", plot_bgcolor="white",
    font=dict(family=FONT, size=26, color=DARK),
    hovermode=False,
    showlegend=True,
    legend=dict(x=0.414, y=1.029, **legend_common),
    legend2=dict(x=0.414, y=0.959, **legend_common),
    legend3=dict(x=0.414, y=0.889, **legend_common),
    xaxis=dict(range=[20, 40], tickvals=x_ticks, tickcolor=DARK,
               linecolor=DARK, mirror="ticks",
               tickfont=dict(family=FONT, size=26, color=DARK), **axis_common),
    yaxis=dict(range=[-2, 6], side="right", tickvals=dev_ticks,
               ticktext=dev_labels, tickcolor=ORANGE, linecolor=ORANGE,
               tickfont=dict(family=FONT, size=26, color=ORANGE), **axis_common),
    yaxis2=dict(range=[0.38, 0.43], overlaying="y", side="left",
                tickvals=ratio_ticks, ticktext=ratio_labels, tickcolor=BLUE,
                linecolor=BLUE,
                tickfont=dict(family=FONT, size=27, color=BLUE), **axis_common),
    annotations=[
        dict(text="Set temperature [°C]", x=0.547, y=-0.1439, xref="paper",
             yref="paper", showarrow=False, xanchor="center", yanchor="middle",
             font=dict(family=FONT, size=28, color=DARK)),
        dict(text="Intensity ratio [-]", x=-0.1406, y=0.512, xref="paper",
             yref="paper", showarrow=False, xanchor="center", yanchor="middle",
             textangle=-90, font=dict(family=FONT, size=29, color=BLUE)),
        dict(text="Measurement deviation [°C]", x=1.0898, y=0.483,
             xref="paper", yref="paper", showarrow=False, xanchor="center",
             yanchor="middle", textangle=-90,
             font=dict(family=FONT, size=28, color=ORANGE)),
    ],
)

fig.write_html("out.html", config={"displayModeBar": False},
               post_script="document.body.style.margin='0px';")
